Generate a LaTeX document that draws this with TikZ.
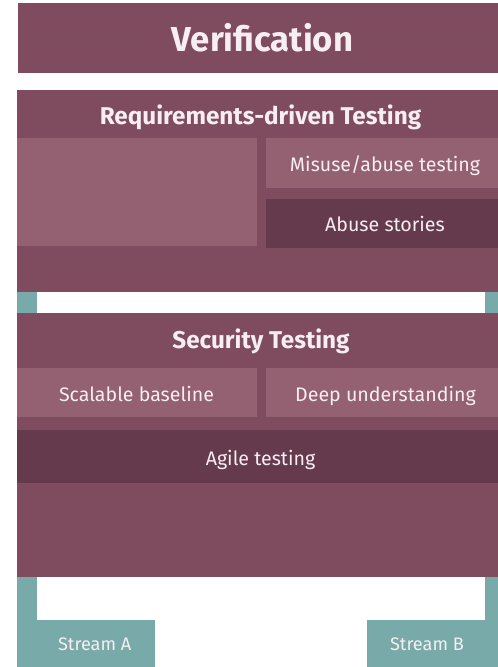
\documentclass[tikz,border=0pt]{standalone}
\usepackage{fontspec}
\setmainfont{Fira Sans}
\usepackage{tikz}
\definecolor{plum}{HTML}{7F4B5F}
\definecolor{plumlight}{HTML}{936171}
\definecolor{plumdark}{HTML}{653A4C}
\definecolor{streamteal}{HTML}{79AAAA}
\definecolor{paletext}{HTML}{F6EEF1}

\begin{document}
\begin{tikzpicture}[x=0.75pt,y=-0.75pt]
		\tikzstyle{BigTitle}=[anchor=base,inner sep=0pt,text=paletext,font=\bfseries\fontsize{26}{30}\selectfont]
		\tikzstyle{Title}=[anchor=base,inner sep=0pt,text=paletext,font=\bfseries\fontsize{18.2}{21}\selectfont]
		\tikzstyle{Label}=[anchor=base,inner sep=0pt,text=paletext,font=\fontsize{14.7}{17}\selectfont]
		\tikzstyle{StreamLabel}=[anchor=base,inner sep=0pt,text=paletext,font=\fontsize{13.6}{16}\selectfont]
		\useasboundingbox[fill=white] (0,0) rectangle (497,667);
		% streams run behind the layers
		\fill[streamteal] (17,292) rectangle (37,667);
		\fill[streamteal] (17,620) rectangle (155,667);
		\fill[streamteal] (485,292) rectangle (505,667);
		\fill[streamteal] (367,620) rectangle (505,667);
		% layers
		\fill[plum] (18,3) rectangle (505,73);
		\fill[plum] (17,90) rectangle (505,292);
		\fill[plum] (17,313) rectangle (505,577);
		\fill[plumlight] (17,138) rectangle (257,246);
		\fill[plumlight] (266,138) rectangle (505,188);
		\fill[plumdark] (266,199) rectangle (505,248);
		\fill[plumlight] (17,368) rectangle (257,417);
		\fill[plumlight] (266,368) rectangle (505,417);
		\fill[plumdark] (17,430) rectangle (505,483);
		% texts
		\node[BigTitle] (verification) at (262.5,52) {Verification};
		\node[Title] (reqtitle) at (260.5,124.5) {Requirements-driven Testing};
		\node[Label] (misuse) at (385,171.5) {Misuse/abuse testing};
		\node[Label] (abuse) at (385,231) {Abuse stories};
		\node[Title] (sectitle) at (261,348.5) {Security Testing};
		\node[Label] (baseline) at (136.5,401) {Scalable baseline};
		\node[Label] (deep) at (385.5,401) {Deep understanding};
		\node[Label] (agile) at (260.5,465) {Agile testing};
		\node[StreamLabel] (streamA) at (94.7,650.7) {Stream A};
		\node[StreamLabel] (streamB) at (427,650.7) {Stream B};
\end{tikzpicture}
\end{document}
